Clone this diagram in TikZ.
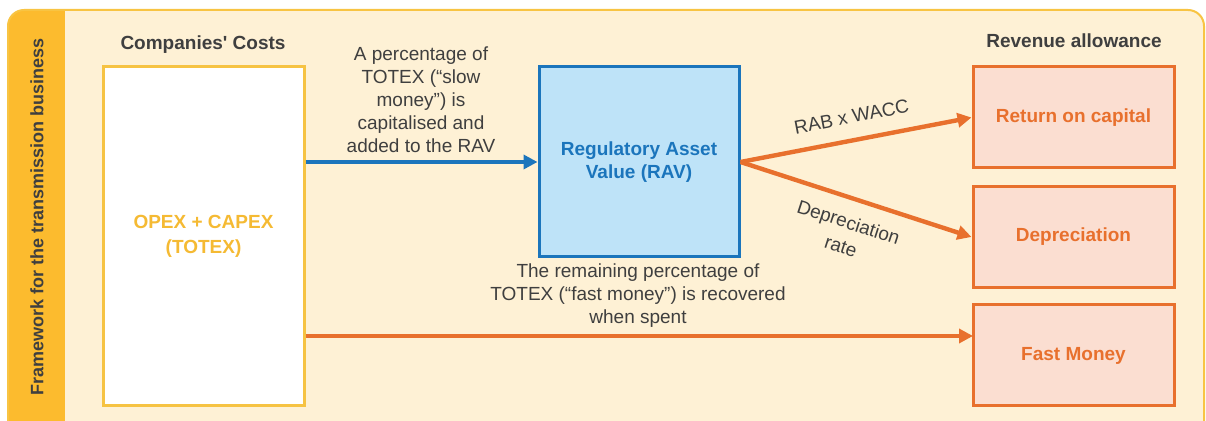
\documentclass[tikz,border=0pt]{standalone}
\usepackage{fontspec}
\setmainfont{Liberation Sans}
\usetikzlibrary{arrows.meta}
\definecolor{cream}{HTML}{FEF1D5}
\definecolor{sidebar}{HTML}{FCBB2E}
\definecolor{panelline}{HTML}{F8C443}
\definecolor{costline}{HTML}{F6C343}
\definecolor{costtext}{HTML}{F5BA33}
\definecolor{ravline}{HTML}{1B75BC}
\definecolor{ravfill}{HTML}{BEE3F8}
\definecolor{revline}{HTML}{E8702D}
\definecolor{revfill}{HTML}{FBDED1}
\definecolor{darktext}{HTML}{3F3F3F}
\def\txt{\fontsize{9.5}{11.5}\selectfont}
\tikzset{
	costbox/.style={draw=costline, fill=white, line width=1.5pt, minimum width=100.5pt, minimum height=169.5pt, align=center, text=costtext, font=\txt\bfseries},
	ravbox/.style={draw=ravline, fill=ravfill, line width=1.5pt, minimum width=100pt, minimum height=95pt, align=center, text=ravline, font=\txt\bfseries},
	revbox/.style={draw=revline, fill=revfill, line width=1.5pt, minimum width=100.5pt, minimum height=50.5pt, text=revline, font=\txt\bfseries},
	heading/.style={text=darktext, font=\txt\bfseries},
	note/.style={text=darktext, font=\txt, align=center},
	bluearrow/.style={draw=ravline, line width=2pt, -{Triangle[length=7pt,width=7pt]}},
	orangearrow/.style={draw=revline, line width=2.2pt, -{Triangle[length=7pt,width=7pt]}}
}
\begin{document}
\begin{tikzpicture}[x=0.5pt, y=-0.5pt]
		%%%%% START %%%%%
		\useasboundingbox (0, 0) rectangle (1206, 421);
		\begin{scope}
			\clip[rounded corners=8pt] (8, 440) -- (8, 10) -- (1204, 10) -- (1204, 440) -- cycle;
			\fill[cream] (0, 0) rectangle (1206, 440);
			\fill[sidebar] (0, 0) rectangle (65, 440);
		\end{scope}
		\draw[panelline, line width=1pt, rounded corners=8pt] (8, 440) -- (8, 10) -- (1204, 10) -- (1204, 440);
		
		\node[rotate=90, heading, font=\fontsize{9}{11}\selectfont\bfseries] (framework) at (37, 217) {Framework for the transmission business};
		
		\node[heading] (costhead) at (203, 45) {Companies\textquotesingle{} Costs};
		\node[heading] (revhead) at (1074, 41) {Revenue allowance};
		
		\node[costbox] (costs) at (203.5, 236.5) {OPEX + CAPEX\\[1pt](TOTEX)};
		\node[ravbox] (rav) at (639, 162) {Regulatory Asset\\Value (RAV)};
		
		\node[revbox] (ret) at (1073.5, 117.5) {Return on capital};
		\node[revbox] (dep) at (1073.5, 237) {Depreciation};
		\node[revbox] (fast) at (1073.5, 355.5) {Fast Money};
		\coordinate (fastin) at (973, 336);
		
		\node[note] (slow) at (421, 100) {A percentage of\\TOTEX (“slow\\money”) is\\capitalised and\\added to the RAV};
		\node[note] (remain) at (638, 296) {The remaining percentage of\\TOTEX (“fast money”) is recovered\\when spent};
		
		\draw[bluearrow] (costs.east |- rav.west) -- (rav.west);
		\draw[orangearrow] (rav.east) -- node[sloped, above=4pt, note] {RAB x WACC} (ret.west);
		\draw[orangearrow] (rav.east) -- node[sloped, below=4pt, note, font=\fontsize{9.5}{12.5}\selectfont] {Depreciation\\rate} (dep.west);
		\draw[orangearrow] (costs.east |- fastin) -- (fastin);
		%%%%% END %%%%%
\end{tikzpicture}
\end{document}
